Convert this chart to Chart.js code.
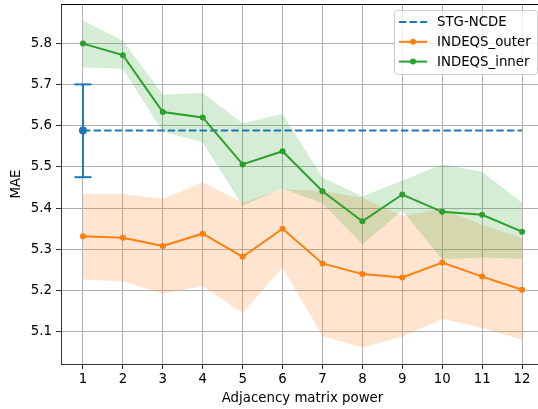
<!DOCTYPE html>
<html>
<head>
<meta charset="utf-8">
<script src="https://cdn.jsdelivr.net/npm/chart.js@4.4.1/dist/chart.umd.min.js"></script>
<style>
  html, body { margin: 0; padding: 0; background: #fff; overflow: hidden; }
  #wrap { width: 538px; height: 409px; overflow: hidden; }
</style>
</head>
<body>
<div id="wrap"><canvas id="chart" width="545" height="409"></canvas></div>
<script>
// adjacency matrix power
const powers = [1, 2, 3, 4, 5, 6, 7, 8, 9, 10, 11, 12];
const yTicks = [5.1, 5.2, 5.3, 5.4, 5.5, 5.6, 5.7, 5.8];

// STG-NCDE baseline (mean and error bar)
const stgMean = 5.588;
const stgLow = 5.475;
const stgHigh = 5.700;

// INDEQS_outer
const outerMean = [5.332, 5.328, 5.308, 5.338, 5.282, 5.350, 5.266, 5.240, 5.232, 5.268, 5.234, 5.202];
const outerUpper = [5.435, 5.434, 5.422, 5.463, 5.413, 5.445, 5.442, 5.425, 5.381, 5.398, 5.359, 5.327];
const outerLower = [5.227, 5.222, 5.193, 5.211, 5.145, 5.256, 5.090, 5.062, 5.088, 5.131, 5.109, 5.081];

// INDEQS_inner
const innerMean = [5.799, 5.771, 5.633, 5.620, 5.506, 5.538, 5.441, 5.368, 5.433, 5.391, 5.384, 5.343];
const innerUpper = [5.855, 5.806, 5.675, 5.679, 5.606, 5.628, 5.474, 5.428, 5.467, 5.506, 5.488, 5.413];
const innerLower = [5.741, 5.738, 5.585, 5.560, 5.406, 5.447, 5.412, 5.312, 5.394, 5.276, 5.280, 5.277];

const BLUE = '#1f77b4', ORANGE = '#ff7f0e', GREEN = '#2ca02c';
const FONT = { family: 'DejaVu Sans', size: 13.33 };

const pts = (arr) => arr.map((v, i) => ({ x: powers[i], y: v }));

// legend drawn like matplotlib's boxed legend, plus the top spine
const boxLegend = {
    id: 'boxLegend',
    afterDraw(chart) {
        const c = chart.ctx, a = chart.chartArea;
        c.save();
        // top spine
        c.strokeStyle = '#000';
        c.lineWidth = 1;
        c.beginPath();
        c.moveTo(a.left, Math.round(a.top) + 0.5);
        c.lineTo(a.right, Math.round(a.top) + 0.5);
        c.stroke();

        const items = [
            { label: 'STG-NCDE', color: BLUE, dash: [7.4, 3.2], marker: false },
            { label: 'INDEQS_outer', color: ORANGE, dash: [], marker: true },
            { label: 'INDEQS_inner', color: GREEN, dash: [], marker: true },
        ];
        const w = 143, h = 64;
        const x0 = Math.round(a.right - 7 - w), y0 = Math.round(a.top + 6) + 0.5;
        c.fillStyle = 'rgba(255,255,255,0.8)';
        c.strokeStyle = '#cccccc';
        c.beginPath();
        c.roundRect(x0 + 0.5, y0, w, h, 3);
        c.fill();
        c.stroke();

        c.font = FONT.size + 'px ' + FONT.family;
        c.textBaseline = 'middle';
        items.forEach((it, i) => {
            const y = y0 + 11.5 + i * 19.8;
            c.strokeStyle = it.color;
            c.lineWidth = 2;
            c.setLineDash(it.dash);
            c.beginPath();
            c.moveTo(x0 + 5, y);
            c.lineTo(x0 + 33, y);
            c.stroke();
            c.setLineDash([]);
            if (it.marker) {
                c.fillStyle = it.color;
                c.beginPath();
                c.arc(x0 + 19, y, 3, 0, Math.PI * 2);
                c.fill();
            }
            c.fillStyle = '#000';
            c.fillText(it.label, x0 + 43, y + 1);
        });
        c.restore();
    }
};

new Chart(document.getElementById('chart'), {
    type: 'line',
    data: {
        datasets: [
            {
                label: 'INDEQS_inner',
                data: pts(innerMean),
                borderColor: GREEN, backgroundColor: GREEN,
                borderWidth: 2, pointRadius: 3, pointBorderWidth: 0, fill: false,
            },
            {
                label: 'INDEQS_outer',
                data: pts(outerMean),
                borderColor: ORANGE, backgroundColor: ORANGE,
                borderWidth: 2, pointRadius: 3, pointBorderWidth: 0, fill: false,
            },
            {
                label: 'STG-NCDE',
                data: [{ x: powers[0], y: stgMean }, { x: powers[powers.length - 1], y: stgMean }],
                borderColor: BLUE, backgroundColor: BLUE,
                borderWidth: 2, borderDash: [7.4, 3.2],
                pointRadius: [4, 0], pointBorderWidth: 0, fill: false,
            },
            {
                label: 'STG-NCDE err',
                data: [{ x: powers[0], y: stgLow }, { x: powers[0], y: stgHigh }],
                borderColor: BLUE, borderWidth: 2,
                pointStyle: 'line', pointRadius: 8.5, pointBorderWidth: 2, pointBorderColor: BLUE,
                fill: false,
            },
            {
                label: 'inner upper',
                data: pts(innerUpper),
                borderWidth: 0, pointRadius: 0,
                backgroundColor: 'rgba(44,160,44,0.2)', fill: '+1',
            },
            {
                label: 'inner lower',
                data: pts(innerLower),
                borderWidth: 0, pointRadius: 0, fill: false,
            },
            {
                label: 'outer upper',
                data: pts(outerUpper),
                borderWidth: 0, pointRadius: 0,
                backgroundColor: 'rgba(255,127,14,0.2)', fill: '+1',
            },
            {
                label: 'outer lower',
                data: pts(outerLower),
                borderWidth: 0, pointRadius: 0, fill: false,
            },
        ]
    },
    options: {
        responsive: false,
        animation: false,
        events: [],
        devicePixelRatio: 1,
        layout: { autoPadding: false, padding: { top: 4, left: 0, right: 1, bottom: 0 } },
        elements: { line: { tension: 0 } },
        plugins: { legend: { display: false }, tooltip: { enabled: false } },
        scales: {
            x: {
                type: 'linear',
                min: 0.45, max: 12.55,
                afterBuildTicks: (s) => { s.ticks = powers.map(v => ({ value: v })); },
                afterFit: (s) => { s.height = 45; s.paddingLeft = 0; s.paddingRight = 0; },
                grid: { color: '#b0b0b0', lineWidth: 1, tickLength: 5, tickColor: '#333' },
                border: { color: '#333', width: 1 },
                ticks: { font: FONT, color: '#000', padding: 3, maxRotation: 0, autoSkip: false },
                title: { display: true, text: 'Adjacency matrix power', font: FONT, color: '#000', padding: { top: 0, bottom: 2 } },
            },
            y: {
                type: 'linear',
                min: 5.022, max: 5.895,
                afterBuildTicks: (s) => { s.ticks = yTicks.map(v => ({ value: v })); },
                afterFit: (s) => { s.width = 61; s.paddingTop = 0; s.paddingBottom = 0; },
                grid: { color: '#b0b0b0', lineWidth: 1, tickLength: 5, tickColor: '#333' },
                border: { color: '#333', width: 1 },
                ticks: { font: FONT, color: '#000', padding: 4, callback: (v) => v.toFixed(1) },
                title: { display: true, text: 'MAE', font: FONT, color: '#000', padding: { top: 9, bottom: 0 } },
            }
        }
    },
    plugins: [boxLegend]
});
</script>
</body>
</html>
